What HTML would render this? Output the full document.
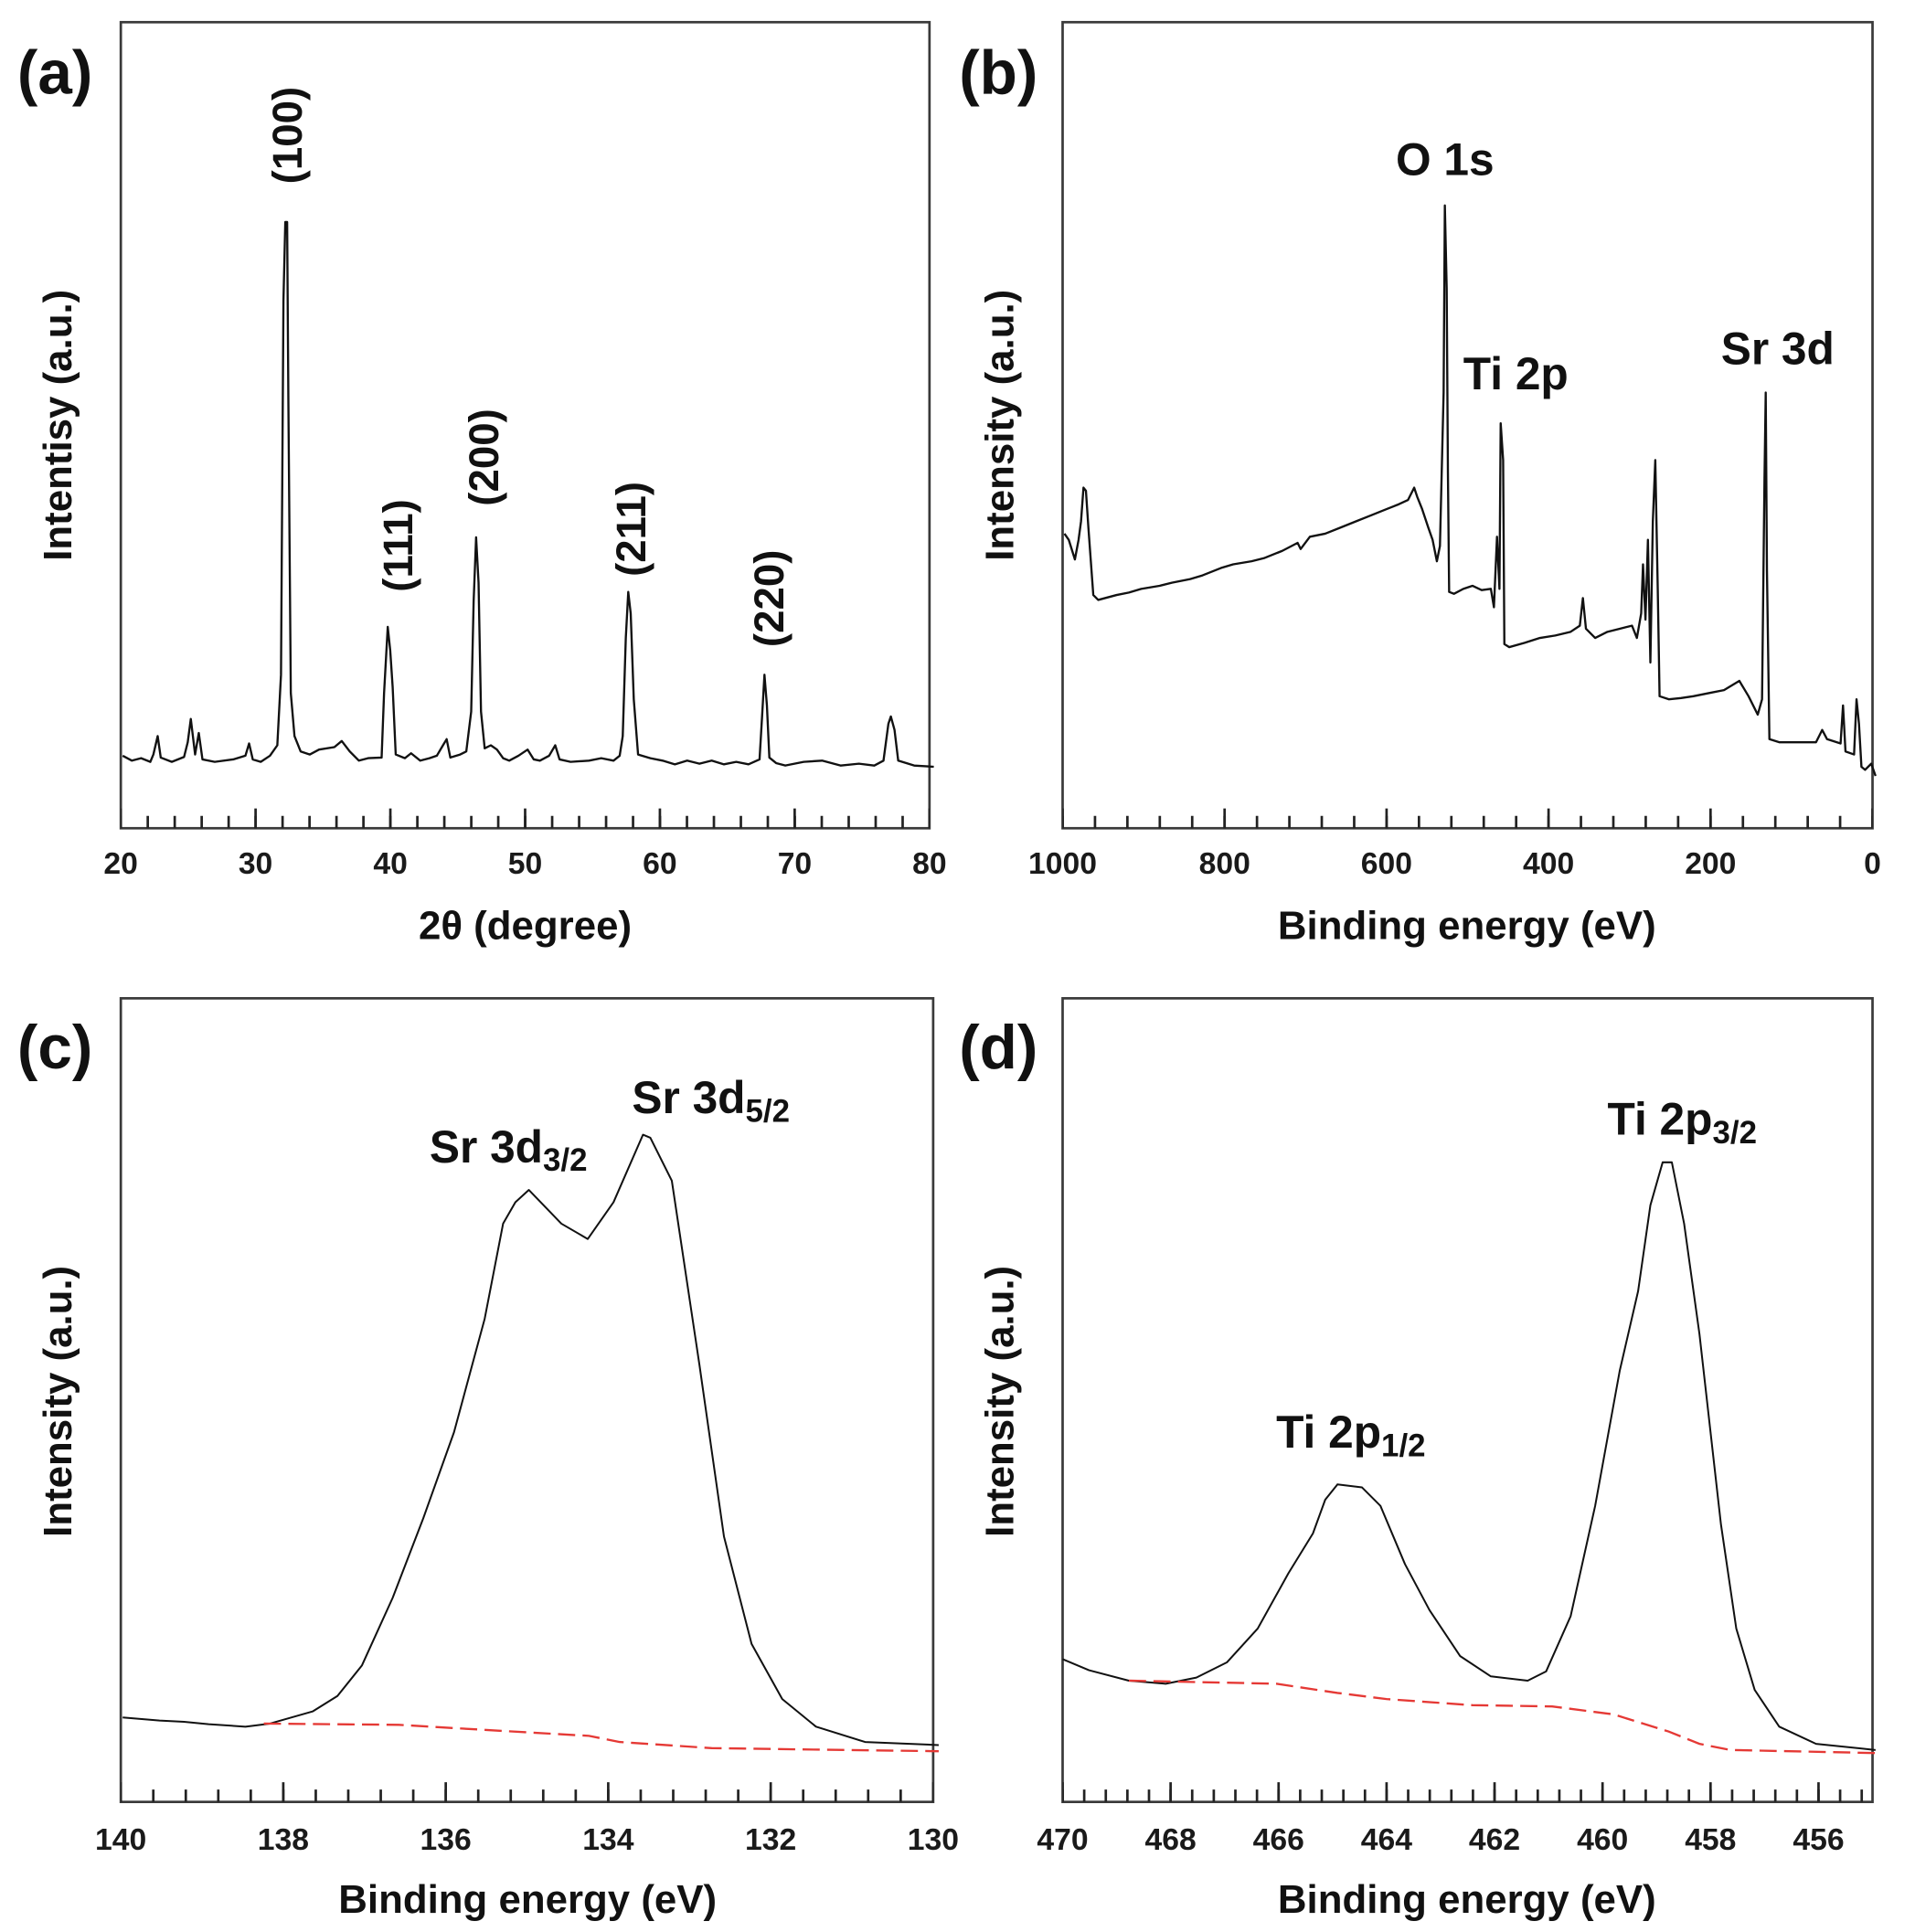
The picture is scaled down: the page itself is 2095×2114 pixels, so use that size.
<!DOCTYPE html>
<html><head><meta charset="utf-8"><style>
html,body{margin:0;padding:0;background:#fff;}
svg{display:block;}
text{font-family:"Liberation Sans",Arial,sans-serif;fill:#111;}
.tl{font-size:25px;font-weight:bold;text-anchor:middle;fill:#1a1a1a;}
.at{font-size:32.5px;font-weight:bold;text-anchor:middle;}
.pl{font-size:50px;font-weight:bold;}
.pk{font-weight:bold;}
</style></head><body>
<svg width="2095" height="2114" viewBox="0 0 2095 2114" xmlns="http://www.w3.org/2000/svg">
<g transform="scale(1.3486)">
<g fill="none" stroke="#3a3a3a" stroke-width="2">
<rect x="98" y="18" width="656" height="654"/>
<rect x="862" y="18" width="657" height="654"/>
<rect x="98" y="810" width="659" height="652"/>
<rect x="862" y="810" width="657" height="652"/>
</g>
<g fill="none" stroke="#222">
<line x1="98" y1="667" x2="754" y2="667" stroke-width="10" stroke-dasharray="2 19.87" stroke-dashoffset="1"/>
<line x1="98" y1="664" x2="754" y2="664" stroke-width="16" stroke-dasharray="2 107.33" stroke-dashoffset="1"/>
<line x1="862" y1="667" x2="1519" y2="667" stroke-width="10" stroke-dasharray="2 24.28" stroke-dashoffset="1"/>
<line x1="862" y1="664" x2="1519" y2="664" stroke-width="16" stroke-dasharray="2 129.4" stroke-dashoffset="1"/>
<line x1="98" y1="1457" x2="757" y2="1457" stroke-width="10" stroke-dasharray="2 24.36" stroke-dashoffset="1"/>
<line x1="98" y1="1454" x2="757" y2="1454" stroke-width="16" stroke-dasharray="2 129.8" stroke-dashoffset="1"/>
<line x1="862" y1="1457" x2="1519" y2="1457" stroke-width="10" stroke-dasharray="2 15.52" stroke-dashoffset="1"/>
<line x1="862" y1="1454" x2="1519" y2="1454" stroke-width="16" stroke-dasharray="2 85.6" stroke-dashoffset="1"/>
</g>
<g>
<text class="tl" x="98" y="709">20</text><text class="tl" x="207.3" y="709">30</text><text class="tl" x="316.7" y="709">40</text><text class="tl" x="426" y="709">50</text><text class="tl" x="535.3" y="709">60</text><text class="tl" x="644.7" y="709">70</text><text class="tl" x="754" y="709">80</text>
<text class="tl" x="862" y="709">1000</text><text class="tl" x="993.4" y="709">800</text><text class="tl" x="1124.8" y="709">600</text><text class="tl" x="1256.2" y="709">400</text><text class="tl" x="1387.6" y="709">200</text><text class="tl" x="1519" y="709">0</text>
<text class="tl" x="98" y="1501">140</text><text class="tl" x="229.8" y="1501">138</text><text class="tl" x="361.6" y="1501">136</text><text class="tl" x="493.4" y="1501">134</text><text class="tl" x="625.2" y="1501">132</text><text class="tl" x="757" y="1501">130</text>
<text class="tl" x="862" y="1501">470</text><text class="tl" x="949.6" y="1501">468</text><text class="tl" x="1037.2" y="1501">466</text><text class="tl" x="1124.8" y="1501">464</text><text class="tl" x="1212.4" y="1501">462</text><text class="tl" x="1300" y="1501">460</text><text class="tl" x="1387.6" y="1501">458</text><text class="tl" x="1475.2" y="1501">456</text>
</g>
<text class="at" x="426" y="762">2θ (degree)</text>
<text class="at" x="1190" y="762">Binding energy (eV)</text>
<text class="at" x="428" y="1552">Binding energy (eV)</text>
<text class="at" x="1190" y="1552">Binding energy (eV)</text>
<text class="at" transform="translate(58,345) rotate(-90)">Intentisy (a.u.)</text>
<text class="at" transform="translate(822,345) rotate(-90)">Intensity (a.u.)</text>
<text class="at" transform="translate(58,1137) rotate(-90)">Intensity (a.u.)</text>
<text class="at" transform="translate(822,1137) rotate(-90)">Intensity (a.u.)</text>
<text class="pl" x="14" y="76">(a)</text>
<text class="pl" x="778" y="76">(b)</text>
<text class="pl" x="14" y="867">(c)</text>
<text class="pl" x="778" y="867">(d)</text>
<g transform="scale(0.4977)">
<path fill="none" stroke="#111" stroke-width="3.5" stroke-linejoin="round" d="M200,1232 L215,1240 230,1236 245,1242 250,1230 257,1200 262,1235 280,1242 300,1234 306,1210 311,1172 318,1230 324,1195 330,1238 350,1242 380,1238 400,1232 406,1212 412,1238 425,1242 440,1232 452,1215 458,1100 462,490 465,362 468,362 470,650 474,1130 480,1200 490,1225 505,1230 520,1222 545,1218 557,1208 570,1225 585,1240 600,1236 622,1235 626,1130 632,1022 636,1060 640,1120 645,1230 660,1236 670,1228 685,1240 700,1236 712,1232 722,1215 728,1205 734,1235 750,1230 760,1225 768,1160 772,980 776,876 780,950 784,1160 790,1220 800,1215 810,1222 820,1236 830,1240 845,1232 860,1222 870,1238 880,1240 895,1232 905,1215 912,1238 930,1242 960,1240 980,1236 1000,1240 1010,1232 1015,1200 1020,1040 1024,965 1028,1000 1033,1140 1040,1230 1060,1236 1080,1240 1100,1246 1120,1240 1140,1245 1160,1240 1180,1246 1200,1242 1220,1246 1238,1238 1242,1170 1246,1100 1250,1150 1254,1235 1265,1244 1280,1248 1310,1242 1340,1240 1370,1248 1400,1245 1425,1248 1440,1240 1448,1180 1452,1168 1458,1190 1464,1240 1490,1248 1522,1250"/>
<text class="pk" transform="translate(492,300) rotate(-90)" style="font-size:68px">(100)</text>
<text class="pk" transform="translate(672,965) rotate(-90)" style="font-size:68px">(111)</text>
<text class="pk" transform="translate(812,825) rotate(-90)" style="font-size:68px">(200)</text>
<text class="pk" transform="translate(1052,940) rotate(-90)" style="font-size:68px">(211)</text>
<text class="pk" transform="translate(1277,1055) rotate(-90)" style="font-size:68px">(220)</text>
</g>
<g transform="translate(776.4,0) scale(0.4977)">
<path fill="none" stroke="#111" stroke-width="3.5" stroke-linejoin="round" d="M175,870 L182,880 192,912 198,880 202,850 206,795 210,800 214,860 222,970 230,978 260,970 280,966 300,960 330,955 350,950 380,944 400,938 430,926 450,920 480,915 500,910 530,898 555,885 560,895 575,875 600,870 625,860 650,850 675,840 700,830 720,822 735,815 745,795 750,810 758,830 768,860 775,880 782,915 787,890 793,640 795,335 798,470 800,770 802,965 810,968 825,960 840,955 855,962 870,960 875,990 880,875 884,960 886,690 890,750 892,1050 900,1055 925,1048 950,1040 975,1036 1000,1030 1015,1020 1020,975 1025,1025 1040,1040 1060,1030 1080,1025 1100,1020 1108,1040 1115,1000 1118,920 1122,1010 1126,880 1130,1080 1134,850 1138,750 1142,960 1145,1135 1160,1140 1180,1138 1200,1135 1225,1130 1250,1125 1275,1110 1290,1135 1305,1165 1312,1140 1316,780 1318,640 1320,930 1324,1205 1340,1210 1370,1210 1400,1210 1410,1190 1418,1205 1440,1212 1444,1150 1448,1225 1462,1230 1466,1140 1470,1180 1474,1250 1480,1255 1490,1245 1497,1265"/>
<text class="pk" x="715" y="285" style="font-size:74px">O 1s</text>
<text class="pk" x="825" y="635" style="font-size:74px">Ti 2p</text>
<text class="pk" x="1245" y="594" style="font-size:74px">Sr 3d</text>
</g>
<g transform="translate(0,783.8) scale(0.4977)">
<path fill="none" stroke="#111" stroke-width="3" stroke-linejoin="round" d="M200,1225 L260,1230 300,1232 340,1236 400,1240 440,1235 510,1215 550,1190 590,1140 640,1030 690,900 740,760 790,575 820,420 840,385 862,365 915,420 958,445 1000,385 1048,275 1060,280 1095,350 1140,650 1180,930 1225,1105 1275,1195 1330,1240 1410,1265 1530,1270"/>
<path fill="none" stroke="#e53935" stroke-width="3.5" stroke-dasharray="28 12" d="M430,1235 L650,1237 820,1247 960,1255 1010,1265 1160,1275 1300,1277 1530,1280"/>
<text class="pk" x="700" y="320" style="font-size:74px">Sr 3d<tspan dy="14" style="font-size:52px">3/2</tspan></text>
<text class="pk" x="1030" y="240" style="font-size:74px">Sr 3d<tspan dy="14" style="font-size:52px">5/2</tspan></text>
</g>
<g transform="translate(776.4,783.8) scale(0.4977)">
<path fill="none" stroke="#111" stroke-width="3" stroke-linejoin="round" d="M172,1130 L215,1148 280,1165 340,1170 390,1160 440,1135 490,1080 540,990 580,925 600,870 620,845 660,850 690,880 730,975 770,1050 820,1125 870,1158 930,1165 960,1150 1000,1060 1040,880 1080,660 1110,530 1130,390 1150,320 1165,320 1185,420 1210,600 1245,910 1270,1080 1300,1180 1340,1240 1400,1268 1497,1278"/>
<path fill="none" stroke="#e53935" stroke-width="3.5" stroke-dasharray="28 12" d="M280,1165 L520,1170 620,1185 700,1195 840,1205 970,1207 1070,1220 1160,1248 1210,1268 1260,1278 1497,1283"/>
<text class="pk" x="520" y="785" style="font-size:74px">Ti 2p<tspan dy="14" style="font-size:52px">1/2</tspan></text>
<text class="pk" x="1060" y="275" style="font-size:74px">Ti 2p<tspan dy="14" style="font-size:52px">3/2</tspan></text>
</g>
</g>
</svg>
</body></html>
